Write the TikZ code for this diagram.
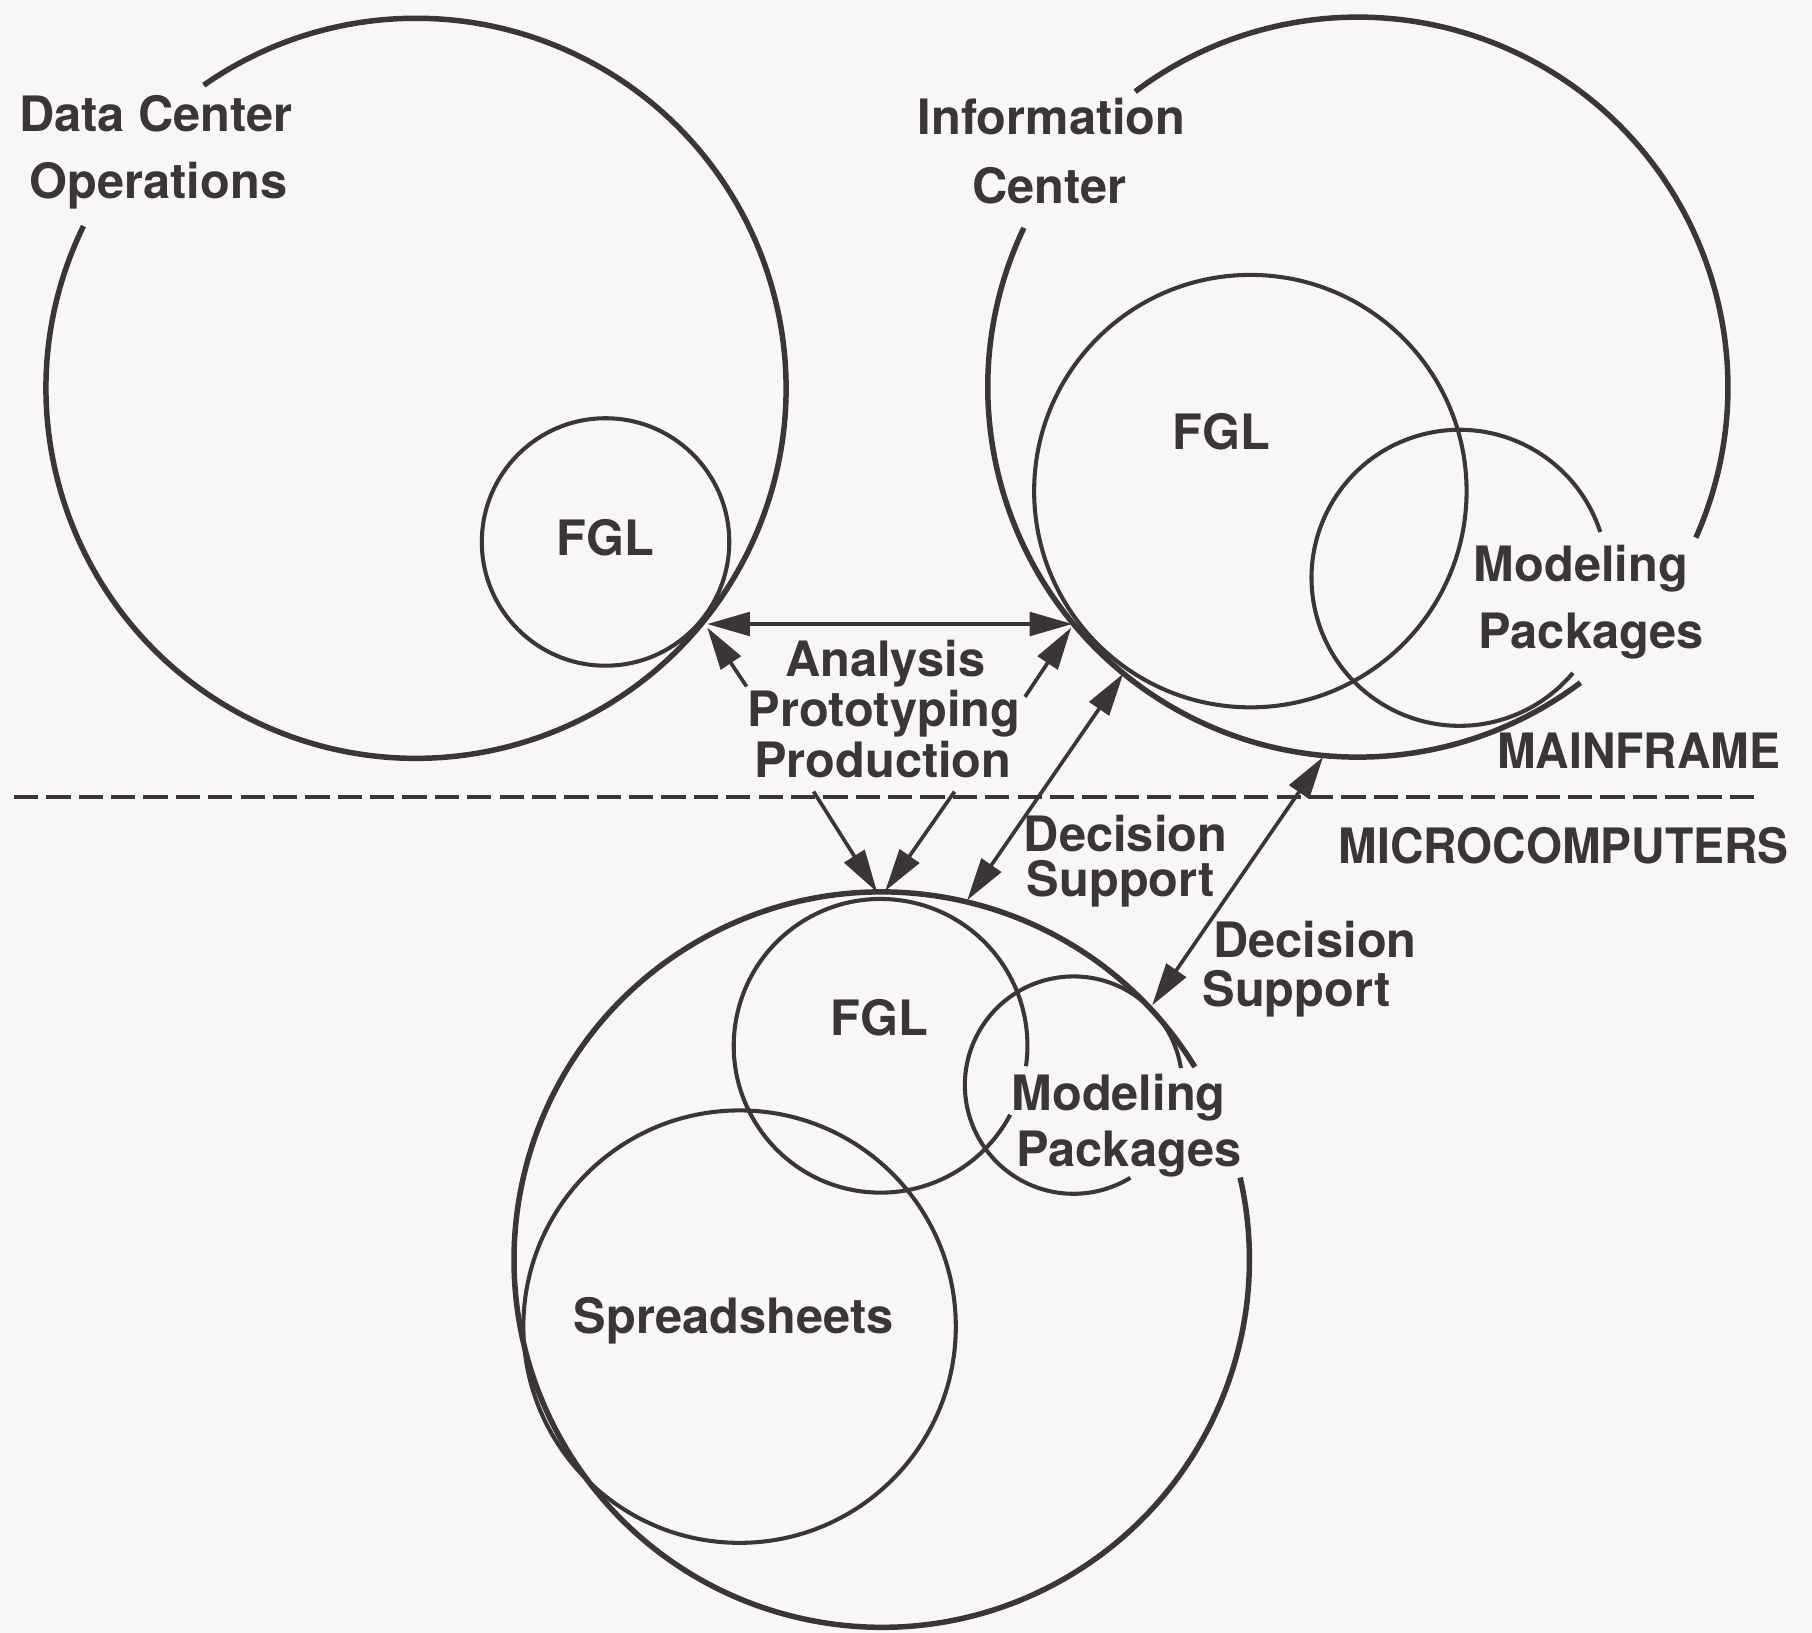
\documentclass[tikz,border=0pt]{standalone}
\usepackage{fontspec}
\setmainfont{TeX Gyre Heros}
\newfontfamily\narrowcaps[FakeStretch=0.95]{TeX Gyre Heros}
\usetikzlibrary{arrows.meta}
\definecolor{ink}{HTML}{3A3638}
\definecolor{paper}{HTML}{F8F6F6}
\begin{document}
\begin{tikzpicture}[x=0.01cm, y=0.01cm,
  big/.style={line width=1.35pt, draw=ink},
  small/.style={line width=1.0pt, draw=ink},
  tipend/.style={-{Triangle[length=10.5pt,width=5.8pt]}},
  tipboth/.style={{Triangle[length=10.5pt,width=5.8pt]}-{Triangle[length=10.5pt,width=5.8pt]}},
  link/.style={line width=0.9pt, draw=ink, fill=ink},
  divider/.style={line width=1.05pt, draw=ink, dash pattern=on 0.21cm off 0.07cm},
  lbl/.style={text=ink, font=\fontsize{12}{14}\selectfont\bfseries, inner sep=0pt, anchor=base},
  caps/.style={lbl, font=\fontsize{12}{14}\selectfont\narrowcaps\bfseries}
]
% page
\fill[paper] (0,0) rectangle (1568,-1413);
\useasboundingbox (0,0) rectangle (1568,-1413);

% circle centres
\coordinate (dc) at (360,-336);
\coordinate (dcfgl) at (524,-469);
\coordinate (ic) at (1175,-335);
\coordinate (icfgl) at (1082,-425);
\coordinate (icmod) at (1263,-500);
\coordinate (mc) at (763,-1090);
\coordinate (mcfgl) at (762,-905);
\coordinate (mcmod) at (929,-939);
\coordinate (sheet) at (640,-1148);

% Data Center Operations
\draw[big] (dc) ++(154:3.2cm) arc[start angle=154, end angle=485, radius=3.2cm];
\draw[small] (dcfgl) circle[radius=1.07cm];

% Information Center
\draw[big] (ic) ++(154.5:3.2cm) arc[start angle=154.5, end angle=307, radius=3.2cm];
\draw[big] (ic) ++(336:3.2cm) arc[start angle=336, end angle=487, radius=3.2cm];
\draw[small] (icfgl) circle[radius=1.87cm];
\draw[small] (icmod) ++(18:1.28cm) arc[start angle=18, end angle=320, radius=1.28cm];

% Microcomputers
\draw[big] (mc) ++(31.6:3.18cm) arc[start angle=31.6, end angle=372.9, radius=3.18cm];
\draw[small] (mcfgl) ++(-8:1.27cm) arc[start angle=-8, end angle=332, radius=1.27cm];
\draw[small] (mcmod) ++(9:0.94cm) arc[start angle=9, end angle=301.5, radius=0.94cm];
\draw[small] (sheet) circle[radius=1.87cm];

% mainframe / microcomputer divide
\coordinate (divL) at (12,-690);
\coordinate (divR) at (1520,-690);
\draw[divider] (divL) -- (divR);

% arrow end points
\coordinate (dcTouch) at (612,-540);
\coordinate (icTouch) at (928,-540);
\coordinate (anaL) at (646,-594);
\coordinate (dcTouch2) at (612,-543);
\coordinate (anaR) at (887,-603);
\coordinate (icTouch2) at (927,-543);
\coordinate (prodL) at (704,-685);
\coordinate (prodR) at (826,-685);
\coordinate (mcTopL) at (759,-772);
\coordinate (mcTopR) at (766,-771);
\coordinate (icDS) at (972,-583);
\coordinate (mcDS) at (837,-779);
\coordinate (icDS2) at (1145,-655);
\coordinate (mcDS2) at (997,-870);

\draw[link, tipboth] (dcTouch) -- (icTouch);
\draw[link, tipend] (anaL) -- (dcTouch2);
\draw[link, tipend] (anaR) -- (icTouch2);
\draw[link, tipend] (prodL) -- (mcTopL);
\draw[link, tipend] (prodR) -- (mcTopR);
\draw[link, tipboth] (icDS) -- (mcDS);
\draw[link, tipboth] (icDS2) -- (mcDS2);

% labels
\node[lbl] (tDC1) at (135,-114) {Data Center};
\node[lbl] (tDC2) at (137,-172) {Operations};
\node[lbl] (tFGL1) at (524,-481) {FGL};
\node[lbl] (tIC1) at (910,-116) {Information};
\node[lbl] (tIC2) at (908,-176) {Center};
\node[lbl] (tFGL2) at (1057,-389) {FGL};
\node[lbl] (tMod1) at (1368,-503) {Modeling};
\node[lbl] (tPkg1) at (1377,-561) {Packages};
\node[lbl] (tAna) at (766,-585) {Analysis};
\node[lbl] (tPro) at (765,-629) {Prototyping};
\node[lbl] (tPrd) at (764,-673) {Production};
\node[caps] (tMF) at (1418,-665) {MAINFRAME};
\node[caps] (tMC) at (1353,-747) {MICROCOMPUTERS};
\node[lbl] (tDec1) at (974,-737) {Decision};
\node[lbl] (tSup1) at (970,-776) {Support};
\node[lbl] (tDec2) at (1138,-829) {Decision};
\node[lbl] (tSup2) at (1122,-871) {Support};
\node[lbl] (tFGL3) at (761,-896) {FGL};
\node[lbl] (tMod2) at (968,-961) {Modeling};
\node[lbl] (tPkg2) at (977,-1009) {Packages};
\node[lbl] (tSS) at (635,-1154) {Spreadsheets};
\end{tikzpicture}
\end{document}
